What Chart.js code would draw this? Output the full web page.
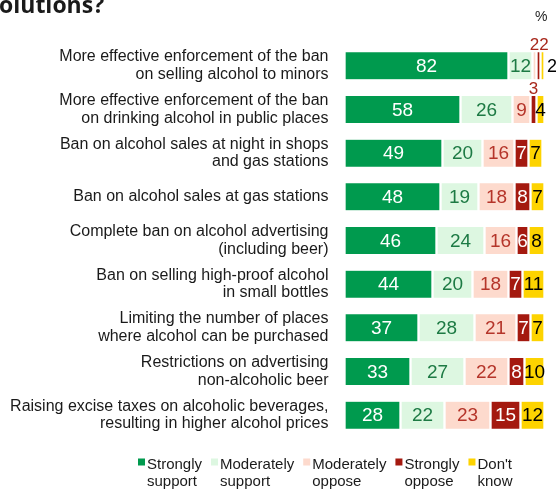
<!DOCTYPE html>
<html>
<head>
<meta charset="utf-8">
<script src="https://cdn.jsdelivr.net/npm/chart.js@4.4.1/dist/chart.umd.min.js"></script>
<style>
  html, body { margin: 0; padding: 0; background: #fff; }
  #wrap { position: relative; width: 556px; height: 491px; }
</style>
</head>
<body>
<div id="wrap"><canvas id="chart" width="556" height="491"></canvas></div>
<script>
  // categories (multi-line labels)
  const categories = [
    ['More effective enforcement of the ban', 'on selling alcohol to minors'],
    ['More effective enforcement of the ban', 'on drinking alcohol in public places'],
    ['Ban on alcohol sales at night in shops', 'and gas stations'],
    'Ban on alcohol sales at gas stations',
    ['Complete ban on alcohol advertising', '(including beer)'],
    ['Ban on selling high-proof alcohol', 'in small bottles'],
    ['Limiting the number of places', 'where alcohol can be purchased'],
    ['Restrictions on advertising', 'non-alcoholic beer'],
    ['Raising excise taxes on alcoholic beverages,', 'resulting in higher alcohol prices']
  ];

  const stronglySupport   = [82, 58, 49, 48, 46, 44, 37, 33, 28];
  const moderatelySupport = [12, 26, 20, 19, 24, 20, 28, 27, 22];
  const moderatelyOppose  = [2, 9, 16, 18, 16, 18, 21, 22, 23];
  const stronglyOppose    = [2, 3, 7, 8, 6, 7, 7, 8, 15];
  const dontKnow          = [2, 4, 7, 7, 8, 11, 7, 10, 12];

  const seriesNames = ['Strongly support', 'Moderately support', 'Moderately oppose', 'Strongly oppose', "Don't know"];
  const fillColors  = ['#009a4e', '#ddf7e1', '#fddacd', '#a4190f', '#fdd300'];
  const textColors  = ['#ffffff', '#1d7a44', '#b5352a', '#ffffff', '#000000'];
  const outsideColor = '#a8281c';

  const FONT = "'Liberation Sans', Arial, sans-serif";

  const valueLabels = {
    id: 'valueLabels',
    afterDatasetsDraw(chart) {
      const ctx = chart.ctx;
      ctx.save();
      const aboveRight = {};
      chart.data.datasets.forEach((ds, di) => {
        const meta = chart.getDatasetMeta(di);
        meta.data.forEach((bar, i) => {
          const v = ds.data[i];
          const left = Math.min(bar.x, bar.base);
          const right = Math.max(bar.x, bar.base);
          const cx = (left + right) / 2;
          const txt = String(v);
          if (v > 3) {
            ctx.font = '19px ' + FONT;
            ctx.fillStyle = textColors[di];
            ctx.textAlign = 'center';
            ctx.textBaseline = 'middle';
            ctx.fillText(txt, cx, bar.y + 1);
          } else if (di === chart.data.datasets.length - 1) {
            ctx.font = '18px ' + FONT;
            ctx.fillStyle = '#000';
            ctx.textAlign = 'left';
            ctx.textBaseline = 'middle';
            ctx.fillText(txt, right + 2.5, bar.y + 1);
          } else {
            ctx.font = '17px ' + FONT;
            const w = ctx.measureText(txt).width;
            let x0 = cx - w / 2;
            if (aboveRight[i] !== undefined && x0 < aboveRight[i]) x0 = aboveRight[i];
            aboveRight[i] = x0 + w;
            ctx.fillStyle = outsideColor;
            ctx.textAlign = 'left';
            ctx.textBaseline = 'alphabetic';
            ctx.fillText(txt, x0, bar.y - bar.height / 2 - 2);
          }
        });
      });
      ctx.restore();
    }
  };

  const extras = {
    id: 'extras',
    afterDraw(chart) {
      const ctx = chart.ctx;
      ctx.save();
      // cut-off title
      ctx.fillStyle = '#1a1a1a';
      ctx.font = "bold 23px 'Open Sans', sans-serif";
      ctx.textBaseline = 'alphabetic';
      ctx.textAlign = 'left';
      ctx.fillText('olutions?', -1, 13);
      // unit
      ctx.font = '14px ' + FONT;
      ctx.fillStyle = '#222';
      ctx.fillText('%', 535, 21);

      // legend
      ctx.font = '15px ' + FONT;
      let x = 138;
      chart.data.datasets.forEach((ds, di) => {
        const parts = ds.label.split(' ');
        ctx.fillStyle = fillColors[di];
        ctx.fillRect(x, 458.5, 7, 7);
        ctx.fillStyle = '#1a1a1a';
        const tx = x + 9;
        ctx.fillText(parts[0], tx, 468.5);
        ctx.fillText(parts[1], tx, 486);
        const w = Math.max(ctx.measureText(parts[0]).width, ctx.measureText(parts[1]).width);
        x = tx + w + 9;
      });
      ctx.restore();
    }
  };

  const series = [stronglySupport, moderatelySupport, moderatelyOppose, stronglyOppose, dontKnow];

  new Chart(document.getElementById('chart'), {
    type: 'bar',
    data: {
      labels: categories,
      datasets: series.map((d, i) => ({
        label: seriesNames[i],
        data: d,
        backgroundColor: fillColors[i],
        borderColor: '#ffffff',
        borderWidth: { left: 1.5, right: 1.5, top: 0, bottom: 0 },
        borderSkipped: false,
        barThickness: 27
      }))
    },
    options: {
      indexAxis: 'y',
      responsive: false,
      animation: false,
      layout: { padding: { top: 44, bottom: 54, left: 0, right: 11.5 } },
      scales: {
        x: { stacked: true, min: 0, max: 100, display: false },
        y: {
          stacked: true,
          grid: { display: false, drawTicks: false },
          border: { display: false },
          afterFit(scale) { scale.width = 344.5; },
          ticks: {
            padding: 16,
            color: '#1a1a1a',
            font: { family: FONT, size: 16, lineHeight: 1.1 }
          }
        }
      },
      plugins: {
        legend: { display: false },
        tooltip: { enabled: false }
      }
    },
    plugins: [valueLabels, extras]
  });
</script>
</body>
</html>
